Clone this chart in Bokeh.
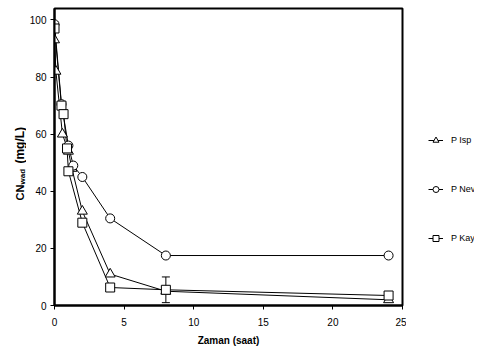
from bokeh.plotting import figure
from bokeh.layouts import row
from bokeh.models import (Range1d, FixedTicker, Legend, LegendItem, Label,
                          Whisker, ColumnDataSource)
from bokeh.embed import file_html
from bokeh.resources import INLINE
import math

# ---- data ----
t_isp = [0, 0.1, 0.57, 1, 1.25, 2, 4, 8, 24]
isp = [93, 82, 60, 54, 48, 33, 11, 5, 2]

t_nev = [0, 0.5, 1, 1.35, 2, 4, 8, 24]
nev = [98.5, 70.5, 56, 49, 45, 30.5, 17.5, 17.5]

t_kay = [0, 0.5, 0.65, 0.9, 1.0, 2, 4, 8, 24]
kay = [97, 70, 67, 55, 47, 29, 6.3, 5.5, 3.5]

err_t = [8]
err_lo = [1]
err_hi = [10]

x_ticks = [0, 5, 10, 15, 20, 25]
y_ticks = [0, 20, 40, 60, 80, 100]
series_names = ["P Isp", "P Nev", "P Kay"]

FONT = "Liberation Sans"
H = 356
yr = Range1d(0, 104)

# ---------------- main chart ----------------
p = figure(width=380, height=H, output_backend="svg", toolbar_location=None,
           x_range=Range1d(0, 25), y_range=yr,
           min_border_left=27, min_border_right=4, min_border_top=8,
           min_border_bottom=H - 305)
p.background_fill_color = "white"
p.border_fill_color = "white"
p.outline_line_color = "black"
p.outline_line_width = 2
p.grid.visible = False

for ax in (p.xaxis[0], p.yaxis[0]):
    ax.axis_line_width = 2
    ax.major_tick_out = 4
    ax.major_tick_in = 0
    ax.minor_tick_out = 0
    ax.minor_tick_in = 0
    ax.major_label_text_font = FONT
    ax.major_label_text_font_size = "10px"
    ax.major_label_text_color = "black"
p.xaxis.ticker = FixedTicker(ticks=x_ticks)
p.yaxis.ticker = FixedTicker(ticks=y_ticks)
p.xaxis.major_label_standoff = 8
p.yaxis.major_label_standoff = 4
p.xaxis.axis_label = "Zaman (saat)"
p.xaxis.axis_label_text_font = FONT
p.xaxis.axis_label_text_font_style = "bold"
p.xaxis.axis_label_text_font_size = "10px"
p.xaxis.axis_label_text_color = "black"
p.xaxis.axis_label_standoff = 6

p.line(t_isp, isp, line_color="black", line_width=1)
p.line(t_nev, nev, line_color="black", line_width=1)
p.line(t_kay, kay, line_color="black", line_width=1)

src_err = ColumnDataSource(dict(base=err_t, lower=err_lo, upper=err_hi))
w = Whisker(source=src_err, base="base", lower="lower", upper="upper",
            line_color="black", line_width=1)
w.upper_head.size = 8
w.lower_head.size = 8
w.upper_head.line_color = "black"
w.lower_head.line_color = "black"
p.add_layout(w)

p.scatter(t_isp, isp, marker="triangle", size=10, fill_color="white",
          line_color="black", line_width=1)
p.scatter(t_nev, nev, marker="circle", size=9, fill_color="white",
          line_color="black", line_width=1)
p.scatter(t_kay, kay, marker="square", size=9, fill_color="white",
          line_color="black", line_width=1)

# ---------------- y-axis title strip ----------------
py = figure(width=26, height=H, output_backend="svg", toolbar_location=None,
            x_range=Range1d(0, 26), y_range=yr,
            x_axis_location=None, y_axis_location=None,
            min_border_left=0, min_border_right=0, min_border_top=8,
            min_border_bottom=H - 305)
py.outline_line_color = None
py.grid.visible = False
lab_kw = dict(angle=math.pi / 2, text_font=FONT, text_font_style="bold",
              text_color="black", text_baseline="middle", text_align="left")
py.add_layout(Label(x=19, y=36.8, text="CN", text_font_size="11px", **lab_kw))
py.add_layout(Label(x=22, y=42.4, text="wad", text_font_size="8px", **lab_kw))
py.add_layout(Label(x=19, y=49.7, text="(mg/L)", text_font_size="12px", **lab_kw))

# ---------------- legend strip ----------------
pl = figure(width=68, height=H, output_backend="svg", toolbar_location=None,
            x_range=Range1d(0, 1), y_range=Range1d(0, 1),
            x_axis_location=None, y_axis_location=None,
            min_border_left=0, min_border_right=0, min_border_top=8,
            min_border_bottom=H - 305)
pl.outline_line_color = None
pl.grid.visible = False
markers = ["triangle", "circle", "square"]
sizes = [10, 9, 9]
items = []
for name, mk, sz, tt, vv in zip(series_names, markers, sizes,
                                 [t_isp, t_nev, t_kay], [isp, nev, kay]):
    # legend proxies: the series' own values, lying outside this strip's ranges
    rl = pl.line(tt[-2:], vv[-2:], line_color="black", line_width=1)
    rm = pl.scatter(tt[-1:], vv[-1:], marker=mk, size=sz, fill_color="white",
                    line_color="black", line_width=1)
    items.append(LegendItem(label=name, renderers=[rl, rm]))
legend = Legend(items=items, location=(22, 58))
legend.border_line_color = None
legend.background_fill_alpha = 0
legend.padding = 0
legend.margin = 0
legend.spacing = 31
legend.glyph_width = 15
legend.glyph_height = 18
legend.label_height = 18
legend.label_standoff = 8
legend.label_text_font = FONT
legend.label_text_font_size = "9px"
legend.label_text_color = "black"
pl.add_layout(legend, "center")

layout = row(py, p, pl)
open("out.html", "w").write(file_html(layout, INLINE))
